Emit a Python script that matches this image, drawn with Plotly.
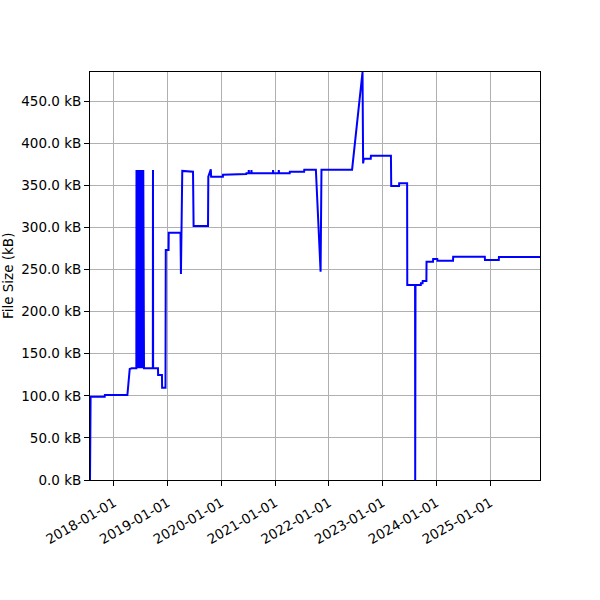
import plotly.graph_objects as go

# commit dates and file size (kB)
dates = [
    '2017-07-22', '2017-07-26', '2017-10-30', '2017-10-31', '2018-04-02', '2018-04-18', '2018-05-01',
    '2018-06-02', '2018-06-03', '2018-06-06', '2018-06-08', '2018-06-12', '2018-06-14', '2018-06-18',
    '2018-06-21', '2018-06-25', '2018-06-28', '2018-07-02', '2018-07-05', '2018-07-09', '2018-07-12',
    '2018-07-16', '2018-07-19', '2018-07-24',
    '2018-09-22', '2018-09-23', '2018-09-24', '2018-10-27', '2018-10-28', '2018-11-23', '2018-11-24',
    '2018-12-17', '2018-12-19', '2019-01-07', '2019-01-08', '2019-03-29', '2019-04-01', '2019-04-10',
    '2019-06-22', '2019-06-26', '2019-10-02', '2019-10-04', '2019-10-21', '2019-10-23',
    '2020-01-11', '2020-01-12', '2020-02-14', '2020-02-15', '2020-06-18', '2020-06-19',
    '2020-07-04', '2020-07-05', '2020-07-07', '2020-07-22', '2020-07-23', '2020-07-25',
    '2020-12-16', '2020-12-17', '2020-12-19', '2021-01-24', '2021-01-25', '2021-01-27',
    '2021-04-09', '2021-04-10', '2021-07-16', '2021-07-17', '2021-10-04', '2021-11-05', '2021-11-11',
    '2022-06-07', '2022-08-17', '2022-08-21', '2022-08-26', '2022-10-12', '2022-10-13', '2023-02-26',
    '2023-02-28', '2023-04-22', '2023-04-23', '2023-06-16', '2023-06-17', '2023-08-09', '2023-08-10',
    '2023-08-12', '2023-09-17', '2023-09-18', '2023-09-29', '2023-09-30', '2023-10-25', '2023-10-26',
    '2023-12-09', '2023-12-10', '2024-01-07', '2024-01-08',
    '2024-04-23', '2024-04-24', '2024-11-25', '2024-11-26', '2025-02-28', '2025-03-01', '2025-12-05',
]
sizes_kb = [
    0.0, 98.9, 98.9, 100.9, 100.9, 131.8, 132.6,
    132.6, 368.0, 132.6, 368.0, 132.6, 368.0, 132.6,
    368.0, 132.6, 368.0, 132.6, 368.0, 132.6, 368.0,
    132.6, 368.0, 132.6,
    132.6, 368.0, 132.6, 132.6, 124.7, 124.7, 109.6,
    109.6, 273.1, 273.1, 293.7, 293.7, 244.6, 367.0,
    366.0, 301.6, 301.6, 360.2, 369.0, 360.2,
    360.2, 362.6, 362.6, 363.4, 363.4, 364.2,
    364.2, 368.0, 364.2, 364.2, 368.0, 364.2,
    364.2, 368.0, 364.2, 364.2, 368.0, 364.2,
    364.2, 366.1, 366.1, 368.5, 368.5, 247.4, 368.5,
    368.5, 484.5, 376.0, 381.6, 381.6, 385.1, 385.1,
    349.1, 349.1, 352.3, 352.3, 231.6, 231.6, 0.0,
    231.6, 231.6, 233.6, 233.6, 236.3, 236.3, 259.3,
    259.3, 262.4, 262.4, 260.5,
    260.5, 265.2, 265.2, 261.3, 261.3, 264.8, 264.8,
]
ytick_vals = [0, 50, 100, 150, 200, 250, 300, 350, 400, 450]
xtick_vals = ['2018-01-01', '2019-01-01', '2020-01-01', '2021-01-01',
              '2022-01-01', '2023-01-01', '2024-01-01', '2025-01-01']

fig = go.Figure()
fig.add_trace(go.Scatter(x=dates, y=sizes_kb, mode='lines',
                         line=dict(color='#0000ff', width=2)))

axis_style = dict(showline=True, linecolor='black', linewidth=1, mirror=True,
                  showgrid=True, gridcolor='#b0b0b0', gridwidth=1,
                  ticks='outside', ticklen=5, tickcolor='black', zeroline=False,
                  automargin=False, tickfont=dict(size=13.5))

fig.update_xaxes(range=['2017-07-22', '2025-12-05'], tickvals=xtick_vals, ticktext=xtick_vals,
                 tickangle=-30, ticklabelstandoff=4, **axis_style)
fig.update_yaxes(range=[0, 484.5], tickvals=ytick_vals,
                 ticktext=[f'{v:.1f} kB' for v in ytick_vals], **axis_style)

# y axis label placed by hand, close to the left edge like the original
fig.add_annotation(text='File Size (kB)', xref='paper', yref='paper', x=-0.182, y=0.5,
                   xanchor='center', yanchor='middle', textangle=-90, showarrow=False,
                   font=dict(size=13.5))

fig.update_layout(
    width=600, height=600,
    margin=dict(l=90, r=60, t=72, b=120),
    plot_bgcolor='white', paper_bgcolor='white',
    font=dict(family='DejaVu Sans', size=13.5, color='black'),
    showlegend=False,
)
# drop the default page margin so the figure sits at the window corner
fig.write_html('out.html', config={'displayModeBar': False},
               post_script="document.body.style.margin='0';")
